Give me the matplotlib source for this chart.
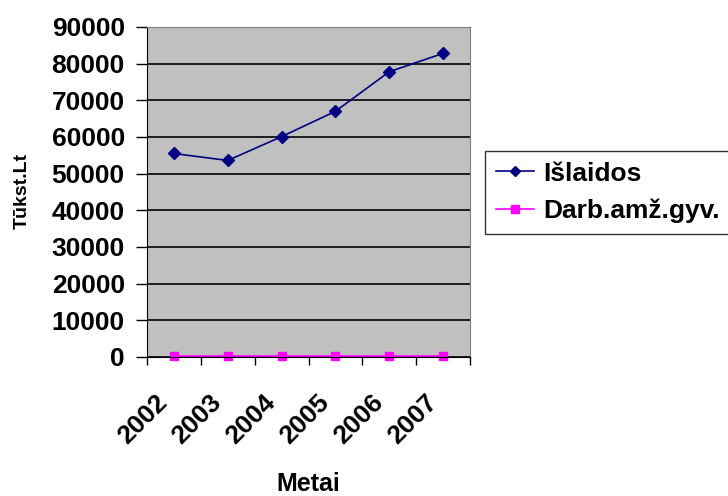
import matplotlib
matplotlib.use("Agg")
from matplotlib import pyplot as plt
from matplotlib.transforms import ScaledTranslation

# data
years = ['2002', '2003', '2004', '2005', '2006', '2007']
islaidos = [55500, 53600, 60100, 67000, 77800, 82800]
darb_amz_gyv = [200, 200, 200, 200, 200, 200]
y_ticks = [0, 10000, 20000, 30000, 40000, 50000, 60000, 70000, 80000, 90000]

plt.rcParams['font.family'] = ['Liberation Sans', 'DejaVu Sans']
plt.rcParams['font.weight'] = 'bold'

fig = plt.figure(figsize=(7.28, 4.96), dpi=100)
ax = fig.add_axes([147/728, 1-357/496, (470-147)/728, (357-27)/496])
ax.set_facecolor('#c0c0c0')

x = list(range(len(years)))
ax.plot(x, islaidos, color='#000080', marker='D', markersize=6, lw=1.2, label='Išlaidos')
ax.plot(x, darb_amz_gyv, color='#ff00ff', marker='s', markersize=6, lw=1.2, label='Darb.amž.gyv.',
        clip_on=False)

ax.set_xlim(-0.5, len(years) - 0.5)
ax.set_ylim(0, 90000)
ax.set_yticks(y_ticks)
ax.set_yticklabels([str(v) for v in y_ticks], fontsize=19, fontweight='bold')
ax.yaxis.grid(True, color='black', lw=1.2)
ax.set_axisbelow(True)

# ticks between categories, labels at category centres
ax.set_xticks([i - 0.5 for i in range(len(years) + 1)])
ax.set_xticklabels([])
ax.set_xticks(x, minor=True)
ax.set_xticklabels(years, minor=True, rotation=45, ha='right', va='center',
                   rotation_mode='anchor', fontsize=19, fontweight='bold')
ax.tick_params(axis='x', which='minor', length=0, pad=0)
ax.tick_params(axis='x', which='major', length=6, width=1, direction='out')
ax.tick_params(axis='y', length=8, width=1, direction='out', pad=8)
shift = ScaledTranslation(-10/100, -42/100, fig.dpi_scale_trans)
for lab in ax.get_xticklabels(minor=True):
    lab.set_transform(lab.get_transform() + shift)

for side in ['top', 'right']:
    ax.spines[side].set_color('#808080')
ax.spines['left'].set_color('black')
ax.spines['bottom'].set_color('black')

ax.set_xlabel('Metai', fontsize=18, fontweight='bold', va='baseline')
ax.xaxis.set_label_coords(0.5, (357-491)/330)
fig.text(22/728, 1-191/496, 'Tūkst.Lt', rotation=90, ha='center', va='center',
         fontsize=14, fontweight='bold')

leg = fig.legend(loc='upper left', bbox_to_anchor=(485/728, 1-151/496), fontsize=19,
                 frameon=True, fancybox=False, borderpad=0.4, handlelength=1.45,
                 labelspacing=0.5, handletextpad=0.35, borderaxespad=0, markerscale=0.85)
leg.get_frame().set_edgecolor('black')
leg.get_frame().set_linewidth(1)
for t in leg.get_texts():
    t.set_fontweight('bold')

fig.savefig('out.png', dpi=100)
